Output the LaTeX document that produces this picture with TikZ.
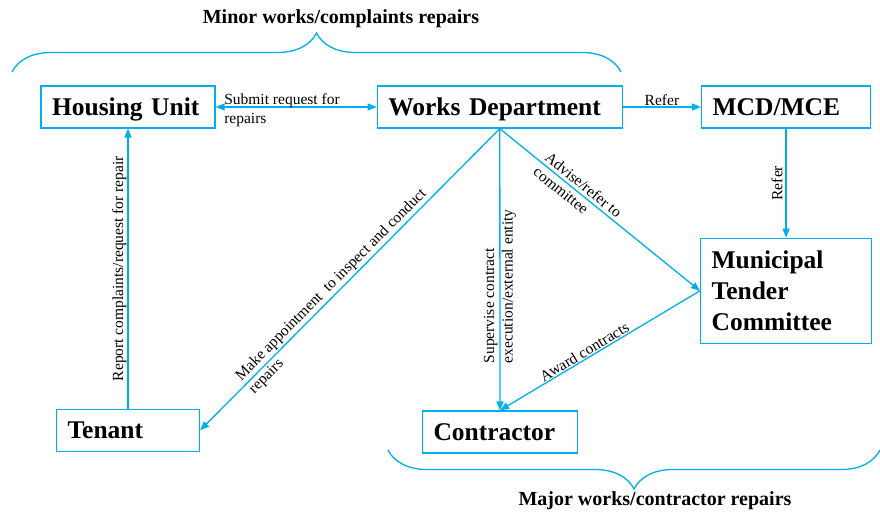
\documentclass[tikz,border=0pt]{standalone}
\usepackage{fontspec}
\setmainfont{Liberation Serif}
\usetikzlibrary{positioning, arrows.meta, decorations.pathreplacing}
\definecolor{flowblue}{RGB}{0,174,239}

\begin{document}
\begin{tikzpicture}[x=1pt, y=-1pt,
    unit/.style={draw=flowblue, line width=1.3pt, align=left, inner xsep=11pt, text depth=0pt, minimum height=42pt, font=\fontsize{25.5}{31}\selectfont\bfseries},
    flow/.style={draw=flowblue, line width=1.3pt, >={Triangle[length=9pt,width=7pt]}, ->},
    tag/.style={font=\fontsize{15.5}{18.5}\selectfont, inner sep=1pt},
    heading/.style={font=\fontsize{20}{24}\selectfont\bfseries},
    curly/.style={draw=flowblue, line width=1.3pt, decorate, decoration={brace, amplitude=39pt}}]

    \useasboundingbox (0,0) rectangle (880,512);

    \node (hu) [unit, text width=152pt] at (128,107) {Housing Unit};
    \node (wd) [unit, text width=223pt, right=161pt of hu] {Works Department};
    \node (mcd) [unit, text width=147pt, right=78pt of wd] {MCD/MCE};
    \node (mtc) [unit, text width=149pt, text depth=, minimum height=105pt, below=109pt of mcd] {Municipal\\Tender\\Committee};
    \node (ten) [unit, text width=121pt, below=280pt of hu] {Tenant};
    \node (con) [unit, text width=133pt] at (500,432) {Contractor};

    % Braces
    \draw [curly] (12,72) -- (621,72);
    \draw [curly] (880,450) -- (388,450);
    \node (minor) [heading] at (341,19) {Minor works/complaints repairs};
    \node (major) [heading] at (655,501) {Major works/contractor repairs};

    % Connections
    \draw [flow, <->] (hu) -- (wd) node [tag, pos=0, anchor=west, align=left, xshift=7pt, yshift=-3pt] {Submit request for\\repairs};
    \draw [flow] (wd) -- (mcd) node [tag, midway, above] {Refer};
    \draw [flow] (mcd) -- (mtc) node [tag, midway, rotate=90, anchor=south, inner sep=3pt] {Refer};
    \draw [flow] (ten) -- (hu) node [tag, midway, rotate=90, anchor=south] {Report complaints/request for repair};
    \draw [flow] (wd.south) -- (ten.east) node [tag, pos=0.54, sloped, align=left] {Make appointment\ \ to inspect and conduct\\repairs};
    \draw [flow] (wd.south) -- (con.north) node [tag, pos=0.56, rotate=90, align=left] {Supervise contract\\execution/external entity};
    \draw [flow] (wd.south) -- (mtc.west) node [tag, pos=0.39, sloped, align=left] {Advise/refer to\\committee};
    \draw [flow] (mtc.west) -- (con.north) node [tag, pos=0.56, sloped, above] {Award contracts};
\end{tikzpicture}
\end{document}
